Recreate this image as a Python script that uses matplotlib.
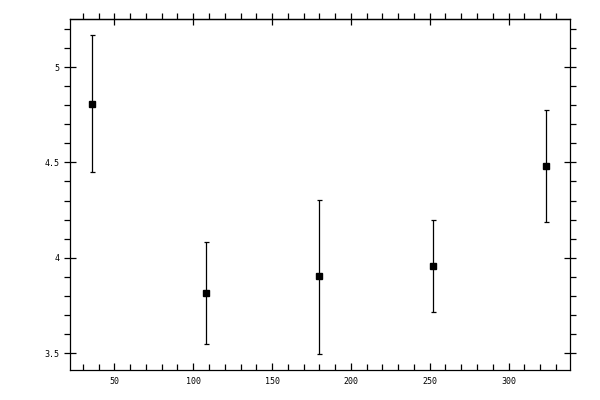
import numpy as np
import matplotlib
matplotlib.use("Agg")
import matplotlib.pyplot as plt

# data
x = [36, 108, 180, 252, 324]
y = [4.806, 3.815, 3.904, 3.956, 4.481]
y_hi = [5.168, 4.082, 4.303, 4.198, 4.775]
y_lo = [4.449, 3.547, 3.495, 3.715, 4.187]
xticks = [50, 100, 150, 200, 250, 300]
yticks = [3.5, 4, 4.5, 5]
ylabels = ["3.5", "4", "4.5", "5"]

err = [np.array(y) - np.array(y_lo), np.array(y_hi) - np.array(y)]

fig = plt.figure(figsize=(6, 4), dpi=100)
ax = fig.add_axes([69.5/600, 30/400, (570-69.5)/600, (370-19.3)/400])

ax.errorbar(x, y, yerr=err, fmt='s', color='black', ms=5, mec='black',
            elinewidth=0.9, capsize=1.8, capthick=0.9)

ax.set_xlim(21.5, 339)
ax.set_ylim(3.412, 5.25)

ax.set_xticks(xticks)
ax.set_xticks(np.arange(30, 340, 10), minor=True)
ax.set_yticks(yticks)
ax.set_yticklabels(ylabels)
ax.set_yticks(np.arange(3.5, 5.25, 0.1), minor=True)

for s in ax.spines.values():
    s.set_linewidth(0.9)

ax.tick_params(axis='x', which='both', direction='in', top=False, bottom=True,
               labelsize=6, pad=5, width=0.9)
ax.tick_params(axis='x', which='major', length=5)
ax.tick_params(axis='x', which='minor', length=4)
ax.tick_params(axis='y', which='both', left=True, right=True, labelsize=6,
               width=0.9)
ax.tick_params(axis='y', which='major', direction='inout', length=8, pad=3)
ax.tick_params(axis='y', which='minor', direction='out', length=4)

# top axis ticks
top = ax.secondary_xaxis('top')
top.set_xticks(xticks)
top.set_xticks(np.arange(30, 340, 10), minor=True)
top.tick_params(which='major', direction='inout', length=8, width=0.9, labeltop=False)
top.tick_params(which='minor', direction='out', length=4, width=0.9)
top.spines['top'].set_linewidth(0.9)

for lab in ax.get_xticklabels() + ax.get_yticklabels():
    lab.set_family('DejaVu Sans Mono')

fig.savefig("out.png", dpi=100)
